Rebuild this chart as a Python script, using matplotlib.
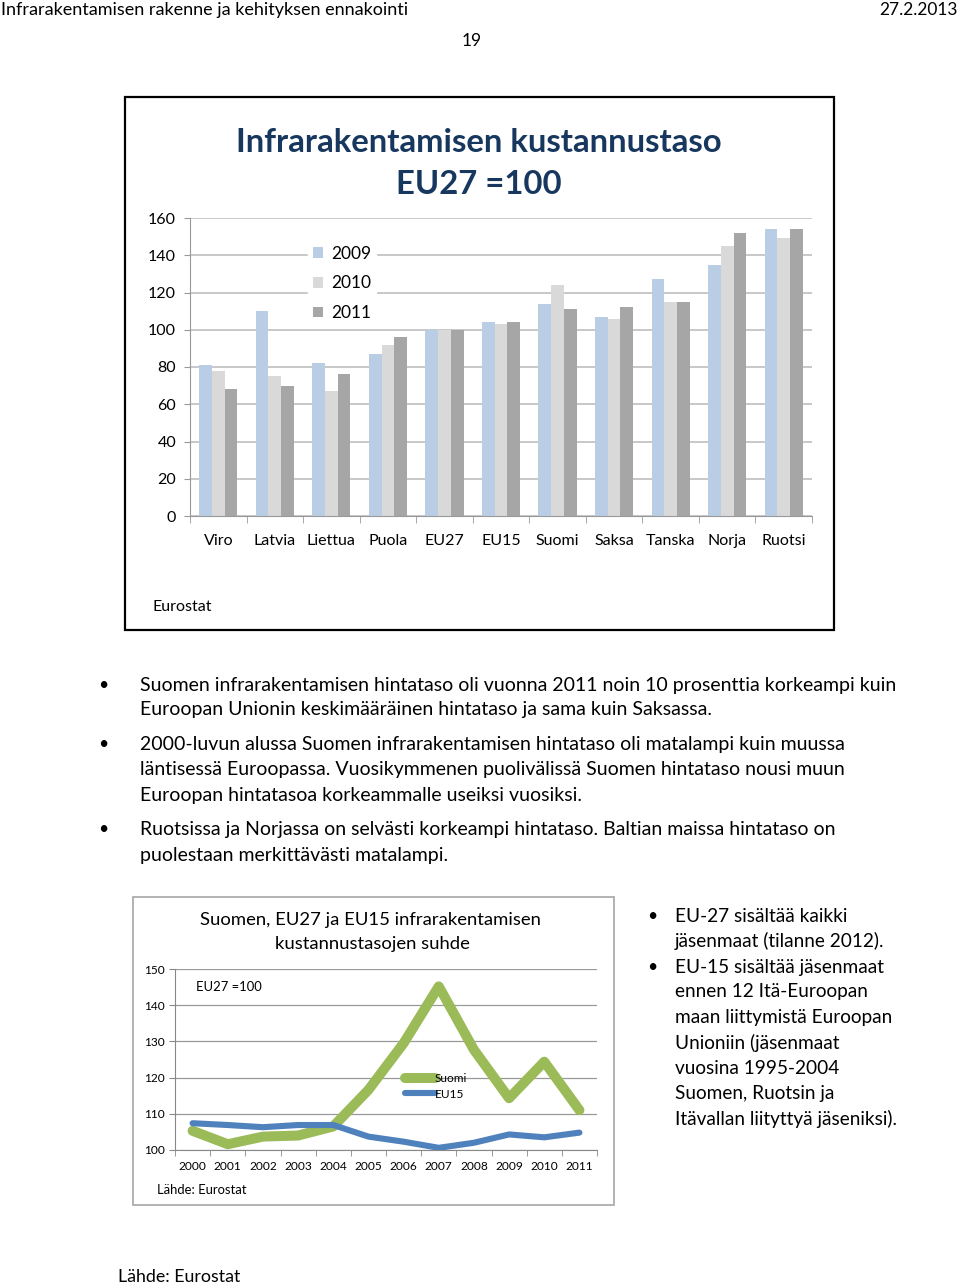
import numpy as np
import matplotlib.pyplot as plt
from matplotlib.patches import Rectangle

W, H = 960, 1285

# bar chart data (EU27 = 100)
countries = ['Viro', 'Latvia', 'Liettua', 'Puola', 'EU27', 'EU15',
             'Suomi', 'Saksa', 'Tanska', 'Norja', 'Ruotsi']
val_2009 = [81, 110, 82, 87, 100, 104, 114, 107, 127, 135, 154]
val_2010 = [78, 75, 67, 92, 100, 103, 124, 106, 115, 145, 149]
val_2011 = [68, 70, 76, 96, 100, 104, 111, 112, 115, 152, 154]
bar_years = ['2009', '2010', '2011']

# line chart data
years = ['2000', '2001', '2002', '2003', '2004', '2005',
         '2006', '2007', '2008', '2009', '2010', '2011']
suomi = [105.3, 101.6, 103.7, 104.0, 106.5, 116.6, 129.5, 145.2, 127.7, 114.3, 124.4, 111.0]
eu15 = [107.4, 106.9, 106.3, 106.9, 106.9, 103.7, 102.3, 100.6, 102.0, 104.3, 103.5, 104.8]

bullets_main = [
    ["Suomen infrarakentamisen hintataso oli vuonna 2011 noin 10 prosenttia korkeampi kuin",
     "Euroopan Unionin keskimääräinen hintataso ja sama kuin Saksassa."],
    ["2000-luvun alussa Suomen infrarakentamisen hintataso oli matalampi kuin muussa",
     "läntisessä Euroopassa. Vuosikymmenen puolivälissä Suomen hintataso nousi muun",
     "Euroopan hintatasoa korkeammalle useiksi vuosiksi."],
    ["Ruotsissa ja Norjassa on selvästi korkeampi hintataso. Baltian maissa hintataso on",
     "puolestaan merkittävästi matalampi."],
]
bullets_side = [
    ["EU-27 sisältää kaikki", "jäsenmaat (tilanne 2012)."],
    ["EU-15 sisältää jäsenmaat", "ennen 12 Itä-Euroopan", "maan liittymistä Euroopan",
     "Unioniin (jäsenmaat", "vuosina 1995-2004", "Suomen, Ruotsin ja",
     "Itävallan liityttyä jäseniksi)."],
]

FONT = ['Lato', 'DejaVu Sans']
plt.rcParams['font.family'] = FONT


def px(x, y):
    return x / W, 1 - y / H


def ptext(x, y, s, size, **kw):
    fx, fy = px(x, y)
    fig.text(fx, fy, s, fontsize=size, va='center', **kw)


def axes_px(left, top, right, bottom):
    return fig.add_axes([left / W, 1 - bottom / H, (right - left) / W, (bottom - top) / H])


fig = plt.figure(figsize=(W / 100, H / 100), dpi=100)

# page header
ptext(1, 10, 'Infrarakentamisen rakenne ja kehityksen ennakointi', 13)
ptext(958, 10, '27.2.2013', 12.5, ha='right')
ptext(472, 41, '19', 12.5, ha='center')

# ---- bar chart ----
fig.add_artist(Rectangle(px(125, 630), 709 / W, 533 / H, transform=fig.transFigure,
                         fill=False, edgecolor='black', linewidth=1.6))
ptext(479, 143, 'Infrarakentamisen kustannustaso', 23.7, ha='center',
      color='#17375e', fontweight='bold')
ptext(479, 185, 'EU27 =100', 23.7, ha='center', color='#17375e', fontweight='bold')

ax = axes_px(190, 218, 812, 516)
x = np.arange(len(countries))
bw = 0.225
colors = ['#b9cde5', '#d9d9d9', '#a6a6a6']
for i, (vals, c) in enumerate(zip([val_2009, val_2010, val_2011], colors)):
    ax.bar(x + (i - 1) * bw, vals, bw, color=c, label=bar_years[i], zorder=2)
ax.set_xlim(-0.5, len(countries) - 0.5)
ax.set_ylim(0, 160)
ax.set_yticks(range(0, 161, 20))
ax.yaxis.grid(True, color='#bfbfbf', linewidth=1.2, zorder=0)
ax.set_axisbelow(True)
ax.set_xticks(x)
ax.set_xticklabels(countries, fontsize=11.5)
ax.set_xticks(np.arange(-0.5, len(countries)), minor=True)
ax.tick_params(axis='x', which='major', length=0, pad=13)
ax.tick_params(axis='x', which='minor', length=5, color='#999999')
ax.tick_params(axis='y', length=4, color='#999999', labelsize=11.5, pad=6)
for s in ['top', 'right']:
    ax.spines[s].set_visible(False)
for s in ['left', 'bottom']:
    ax.spines[s].set_color('#999999')
leg = ax.legend(loc='upper left', bbox_to_anchor=(0.19, 0.925), fontsize=12.5,
                frameon=True, framealpha=1, edgecolor='white', fancybox=False,
                handlelength=0.55, handleheight=0.55, handletextpad=0.45,
                labelspacing=0.8, borderpad=0.3, borderaxespad=0)
ptext(152, 607, 'Eurostat', 11.5)

# ---- bullet text ----
ys = [[685, 710], [744, 770, 796], [829, 855]]
for lines, yy in zip(bullets_main, ys):
    ptext(103, yy[0], '•', 12.5, ha='center')
    for s, y in zip(lines, yy):
        ptext(140, y, s, 14.0)

# ---- line chart ----
fig.add_artist(Rectangle(px(133, 1205), 481 / W, 308 / H, transform=fig.transFigure,
                         fill=False, edgecolor='#a6a6a6', linewidth=1.2))
ptext(370, 920, 'Suomen, EU27 ja EU15 infrarakentamisen', 13.3, ha='center')
ptext(372, 944, 'kustannustasojen suhde', 13.3, ha='center')

ax2 = axes_px(175, 969, 597, 1150)
xl = np.arange(len(years))
ax2.plot(xl, suomi, color='#9bbb59', linewidth=7.2, label='Suomi',
         solid_joinstyle='round', solid_capstyle='round', zorder=3)
ax2.plot(xl, eu15, color='#4f81bd', linewidth=4.4, label='EU15',
         solid_joinstyle='round', solid_capstyle='round', zorder=4)
ax2.set_xlim(-0.5, len(years) - 0.5)
ax2.set_ylim(100, 150)
ax2.set_yticks(range(100, 151, 10))
ax2.yaxis.grid(True, color='#999999', linewidth=0.9, zorder=0)
ax2.set_xticks(xl)
ax2.set_xticklabels(years, fontsize=8.6)
ax2.set_xticks(np.arange(-0.5, len(years)), minor=True)
ax2.tick_params(axis='x', which='major', length=0, pad=8)
ax2.tick_params(axis='x', which='minor', length=4, color='#888888')
ax2.tick_params(axis='y', length=4, color='#888888', labelsize=8.6, pad=3)
for s in ['top', 'right']:
    ax2.spines[s].set_visible(False)
for s in ['left', 'bottom']:
    ax2.spines[s].set_color('#888888')
ax2.legend(loc='center left', bbox_to_anchor=(0.545, 0.352), fontsize=8.6,
           frameon=False, handlelength=2.5, handletextpad=0.0,
           labelspacing=0.38, borderpad=0, borderaxespad=0)
ptext(196, 987, 'EU27 =100', 9.4)
ptext(157, 1190, 'Lähde: Eurostat', 9.4)

# side bullets
ys2 = [[916, 941], [967, 992, 1017, 1043, 1068, 1094, 1119]]
for lines, yy in zip(bullets_side, ys2):
    ptext(652, yy[0], '•', 12.5, ha='center')
    for s, y in zip(lines, yy):
        ptext(675, y, s, 13.7)

ptext(118, 1277, 'Lähde: Eurostat', 12.8)

fig.savefig('out.png', dpi=100)
